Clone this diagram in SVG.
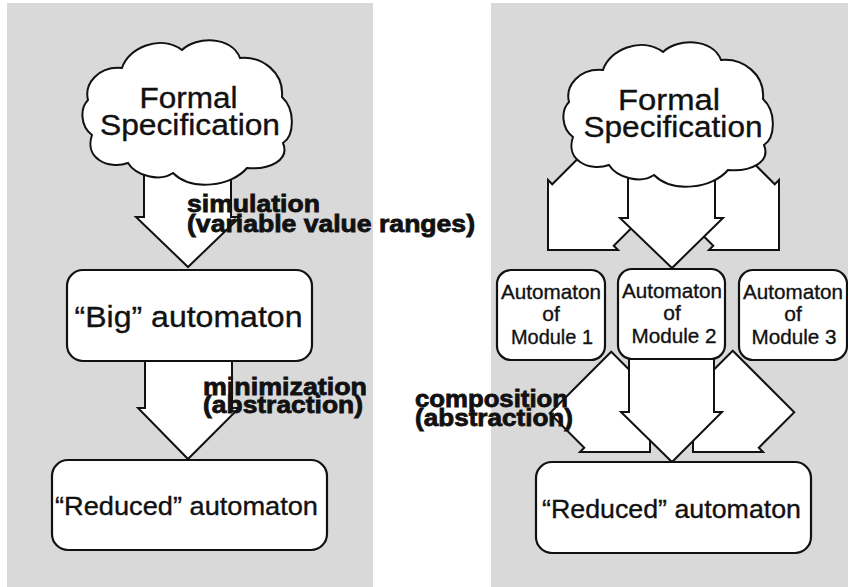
<svg xmlns="http://www.w3.org/2000/svg" width="848" height="587" viewBox="0 0 848 587">
  <style>
    .panel { fill: #d9d9d9; stroke: none; }
    .shape { fill: #ffffff; stroke: #111111; stroke-width: 2; stroke-linejoin: miter; }
    .box { fill: #ffffff; stroke: #111111; stroke-width: 2.2; }
    .t { font-family: "Liberation Sans", Arial, Helvetica, sans-serif; fill: #111111; stroke: #111111; stroke-width: 0.35; text-anchor: middle; }
    .lbl { font-family: "Liberation Sans", Arial, Helvetica, sans-serif; font-weight: bold; fill: #111111; stroke: #111111; stroke-width: 0.8; font-size: 24px; }
  </style>
  <defs>
    <!-- cloud outline, placed at the left column; the right one is shifted -->
    <path id="cloudShape" d="M 88,100 C 84,84 98,66 122,68 C 128,48 160,34 182,50 C 196,36 232,36 240,58 C 262,56 284,72 282,97 C 296,110 294,136 283,143 C 290,160 270,170 247,168 C 232,186 192,192 173,173 C 160,182 136,176 128,163 C 108,170 84,158 92,135 C 80,126 80,108 88,100 Z"/>
  </defs>

  <!-- background panels -->
  <rect class="panel" x="7" y="3" width="366" height="584"/>
  <rect class="panel" x="491" y="3" width="357" height="584"/>

  <!-- block arrows and their labels -->
  <g id="connectors">
    <!-- left column -->
    <polygon class="shape" points="144,150 231,150 231,217 240,217 188,267 136,217 144,217"/>
    <polygon class="shape" points="145,355 232,355 232,408 239,408 188,459 138,408 145,408"/>
    <!-- right column: spec to modules -->
    <polygon class="shape" points="628.25,108.25 552.25,184.25 548,180 548,250 618,250 613.75,245.75 689.75,169.75"/>
    <polygon class="shape" points="710.25,119.75 774.75,184.25 779,180 779,250 709,250 713.25,245.75 648.75,181.25"/>
    <polygon class="shape" points="628,150 715,150 715,218 723,218 672,268 620,218 628,218"/>
    <!-- right column: modules to reduced automaton -->
    <polygon class="shape" points="611.25,351.75 645.75,386.25 650,382 650,452 580,452 584.25,447.75 549.75,413.25"/>
    <polygon class="shape" points="732.75,350.75 697.25,386.25 693,382 693,452 763,452 758.75,447.75 794.25,412.25"/>
    <polygon class="shape" points="629,352 714,352 714,412 722,412 672,462 621,412 629,412"/>
    <!-- labels -->
    <text class="lbl" x="187" y="212" textLength="133" lengthAdjust="spacingAndGlyphs">simulation</text>
    <text class="lbl" x="187" y="232" textLength="288" lengthAdjust="spacingAndGlyphs">(variable value ranges)</text>
    <text class="lbl" x="203" y="395" textLength="164" lengthAdjust="spacingAndGlyphs">minimization</text>
    <text class="lbl" x="203" y="413" textLength="160" lengthAdjust="spacingAndGlyphs">(abstraction)</text>
    <text class="lbl" x="415" y="407" textLength="153" lengthAdjust="spacingAndGlyphs">composition</text>
    <text class="lbl" x="415" y="426" textLength="158" lengthAdjust="spacingAndGlyphs">(abstraction)</text>
  </g>

  <!-- left column nodes -->
  <g id="spec-left">
    <use href="#cloudShape" class="shape"/>
    <text class="t" x="188.5" y="108" font-size="29" textLength="98" lengthAdjust="spacingAndGlyphs">Formal</text>
    <text class="t" x="190" y="135" font-size="29" textLength="180" lengthAdjust="spacingAndGlyphs">Specification</text>
  </g>
  <g id="big-automaton">
    <rect class="box" x="67" y="270" width="245" height="91" rx="16"/>
    <text class="t" x="188.5" y="327" font-size="30" textLength="228" lengthAdjust="spacingAndGlyphs">“Big” automaton</text>
  </g>
  <g id="reduced-left">
    <rect class="box" x="52" y="460" width="275" height="90" rx="16"/>
    <text class="t" x="186.5" y="515" font-size="26" textLength="263" lengthAdjust="spacingAndGlyphs">“Reduced” automaton</text>
  </g>

  <!-- right column nodes -->
  <g id="spec-right">
    <use href="#cloudShape" class="shape" transform="translate(481,2)"/>
    <text class="t" x="669" y="110" font-size="29" textLength="102" lengthAdjust="spacingAndGlyphs">Formal</text>
    <text class="t" x="673" y="137" font-size="29" textLength="179" lengthAdjust="spacingAndGlyphs">Specification</text>
  </g>
  <g id="module-1">
    <rect class="box" x="497" y="270" width="108" height="90" rx="14"/>
    <text class="t" x="551" y="299" font-size="21" textLength="100" lengthAdjust="spacingAndGlyphs">Automaton</text>
    <text class="t" x="551" y="321" font-size="21">of</text>
    <text class="t" x="552" y="344" font-size="21" textLength="82" lengthAdjust="spacingAndGlyphs">Module 1</text>
  </g>
  <g id="module-2">
    <rect class="box" x="618" y="269" width="107" height="90" rx="14"/>
    <text class="t" x="672" y="298" font-size="21" textLength="100" lengthAdjust="spacingAndGlyphs">Automaton</text>
    <text class="t" x="672" y="320" font-size="21">of</text>
    <text class="t" x="674" y="343" font-size="21" textLength="85" lengthAdjust="spacingAndGlyphs">Module 2</text>
  </g>
  <g id="module-3">
    <rect class="box" x="739" y="270" width="108" height="90" rx="14"/>
    <text class="t" x="793" y="299" font-size="21" textLength="100" lengthAdjust="spacingAndGlyphs">Automaton</text>
    <text class="t" x="793" y="321" font-size="21">of</text>
    <text class="t" x="794" y="344" font-size="21" textLength="85" lengthAdjust="spacingAndGlyphs">Module 3</text>
  </g>
  <g id="reduced-right">
    <rect class="box" x="536" y="462" width="275" height="91" rx="16"/>
    <text class="t" x="671.5" y="518" font-size="26" textLength="259" lengthAdjust="spacingAndGlyphs">“Reduced” automaton</text>
  </g>
</svg>
